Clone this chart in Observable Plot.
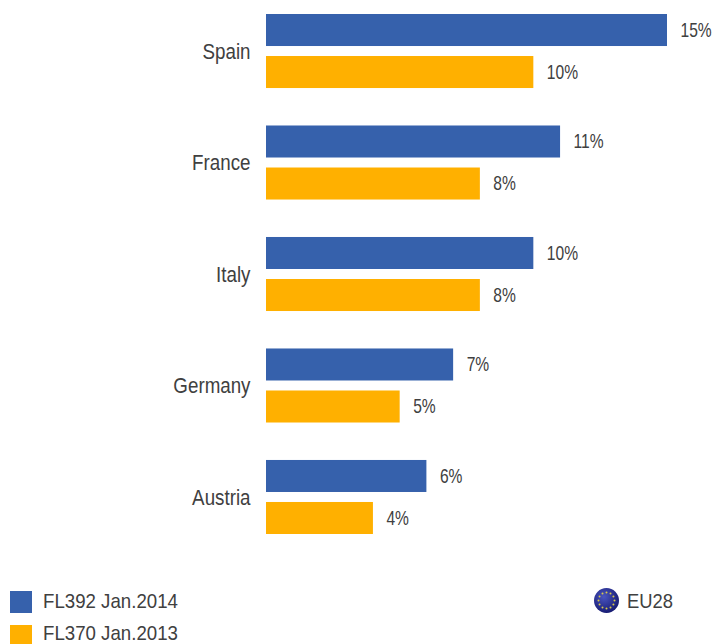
<!DOCTYPE html>
<html>
<head>
<meta charset="utf-8">
<script src="https://cdn.jsdelivr.net/npm/d3@7"></script>
<script src="https://cdn.jsdelivr.net/npm/@observablehq/plot@0.6"></script>
<style>
html,body{margin:0;padding:0;background:#fff;overflow:hidden}
#chart{width:714px;height:570px}
#chart svg{display:block}
#legend{position:relative;width:714px;height:74px;overflow:hidden;font-family:"Liberation Sans",Arial,sans-serif;font-size:21px;color:#404040}
#legend div{position:absolute;white-space:nowrap;line-height:24px}
#legend .sw{width:22px;height:22px}
#legend .t{transform-origin:0 50%}
</style>
</head>
<body>
<div id="chart"></div>
<div id="legend"></div>
<script>
const countries = ["Spain", "France", "Italy", "Germany", "Austria"];
const seriesNames = ["FL392 Jan.2014", "FL370 Jan.2013"];
const values2014 = [15, 11, 10, 7, 6];
const values2013 = [10, 8, 8, 5, 4];
const colors = ["#3661AC", "#FFB000"];
const rows = countries.flatMap((c, i) => [
  {country: c, series: seriesNames[0], value: values2014[i]},
  {country: c, series: seriesNames[1], value: values2013[i]}
]);
const plot = Plot.plot({
  width: 714,
  height: 570,
  marginTop: 14,
  marginBottom: 36,
  marginLeft: 266,
  marginRight: 47,
  style: {background: "#fff"},
  x: {domain: [0, 15], axis: null},
  y: {domain: seriesNames, paddingInner: 0.238, paddingOuter: 0, round: false, axis: null},
  fy: {domain: countries, paddingInner: 0.336, paddingOuter: 0, round: false, axis: null},
  color: {domain: seriesNames, range: colors},
  marks: [
    Plot.barX(rows, {fy: "country", y: "series", x: "value", fill: "series"}),
    Plot.text(rows, {
      fy: "country", y: "series", x: "value",
      text: d => d.value + "%",
      textAnchor: "start", dx: 13,
      fontFamily: "'Liberation Sans',sans-serif",
      fontSize: 20, fill: "#404040"
    }),
    Plot.axisFy({
      anchor: "left", label: null, tickSize: 0, tickPadding: 16,
      fontSize: 22, color: "#404040",
      fontFamily: "'Liberation Sans',sans-serif"
    })
  ]
});
document.getElementById("chart").appendChild(plot);

// The reference's type is horizontally condensed: narrow the glyphs, keep them real text.
function condense(selection, factor) {
  selection.each(function () {
    const x = parseFloat(this.getAttribute("x")) || 0;
    const base = this.getAttribute("transform") || "";
    this.setAttribute("transform", `${base} translate(${x},0) scale(${factor},1) translate(${-x},0)`);
  });
}
condense(d3.select(plot).selectAll("g[aria-label='text'] text"), 0.78);
condense(d3.select(plot).selectAll("g[aria-label='fy-axis tick label'] text"), 0.853);

const legend = document.getElementById("legend");
seriesNames.forEach((name, i) => {
  legend.insertAdjacentHTML("beforeend",
    `<div class="sw" style="left:10px;top:${21 + i * 34}px;background:${colors[i]}"></div>` +
    `<div class="t" style="left:43px;top:${19 + i * 32}px;transform:scaleX(.889)">${name}</div>`);
});
const stars = d3.range(12).map(k => {
  const a = k * Math.PI / 6;
  return `<circle cx="${12.5 + 8 * Math.cos(a)}" cy="${12.5 + 8 * Math.sin(a)}" r="1" fill="#d8c84a"/>`;
}).join("");
legend.insertAdjacentHTML("beforeend",
  `<div style="left:594px;top:18px;line-height:0"><svg width="25" height="25">
    <defs><radialGradient id="g" cx="40%" cy="35%" r="70%"><stop offset="0" stop-color="#4a55c0"/><stop offset="1" stop-color="#14186e"/></radialGradient></defs>
    <circle cx="12.5" cy="12.5" r="12.5" fill="url(#g)"/>${stars}</svg></div>` +
  `<div class="t" style="left:627px;top:19px;transform:scaleX(.875)">EU28</div>`);
</script>
</body>
</html>
